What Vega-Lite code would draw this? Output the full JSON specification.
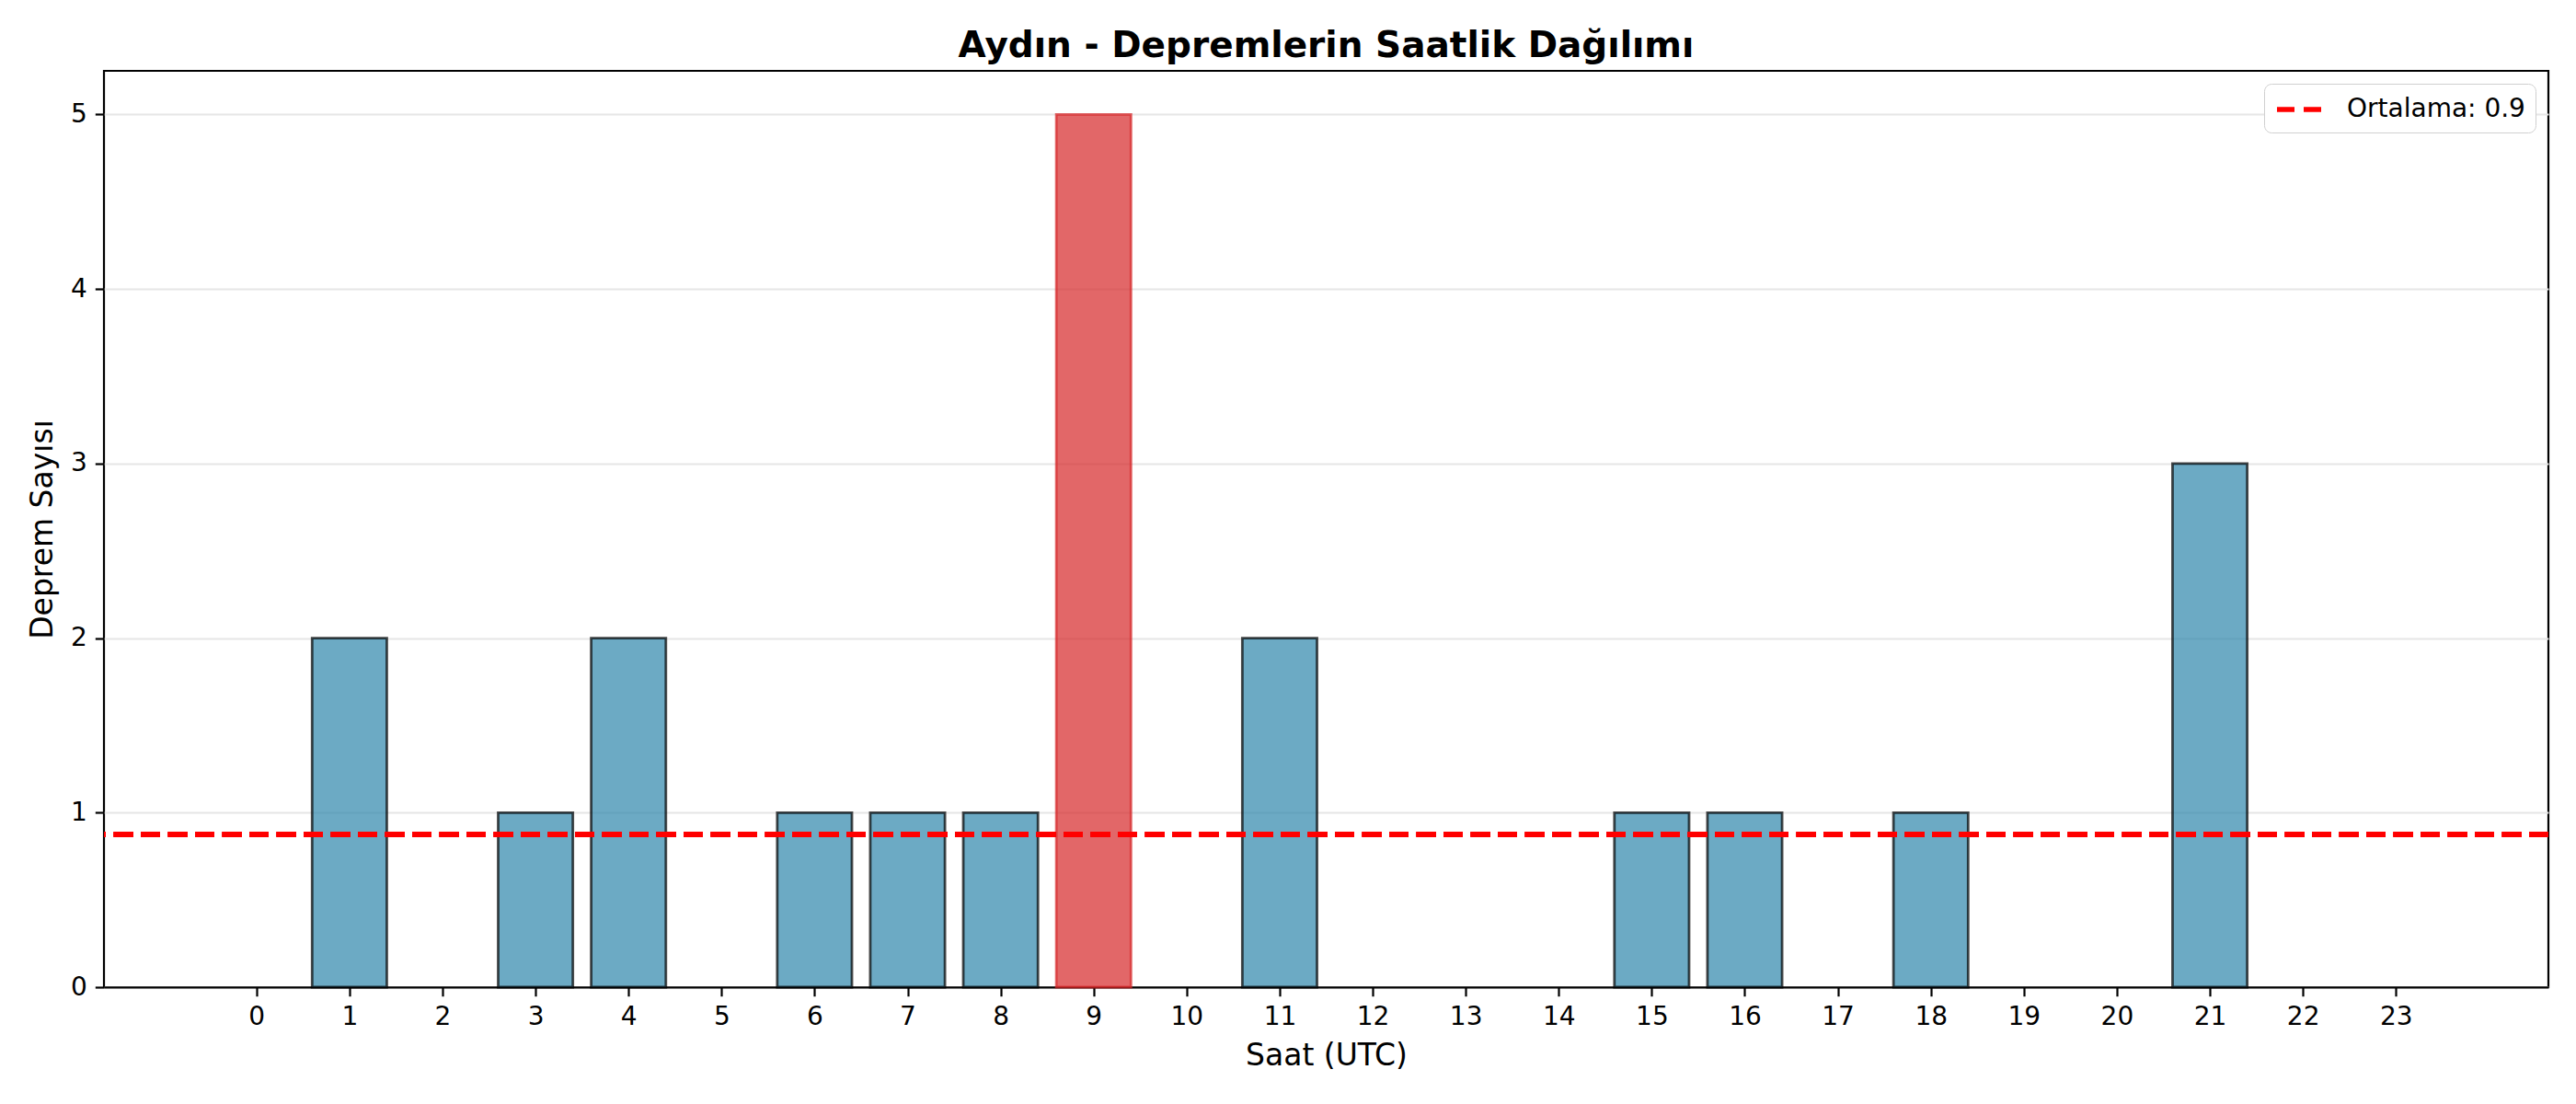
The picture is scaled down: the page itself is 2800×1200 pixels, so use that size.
{
  "$schema": "https://vega.github.io/schema/vega-lite/v6.json",
  "autosize": {"type": "none"},
  "width": 2657,
  "height": 996,
  "padding": {"left": 113, "top": 77, "right": 30, "bottom": 127},
  "background": "white",
  "title": {
    "text": "Aydın - Depremlerin Saatlik Dağılımı",
    "font": "DejaVu Sans",
    "fontSize": 39,
    "fontWeight": "bold",
    "color": "black",
    "anchor": "middle",
    "offset": 7
  },
  "data": {
    "values": [
      {"saat": 0, "sayi": 0},
      {"saat": 1, "sayi": 2},
      {"saat": 2, "sayi": 0},
      {"saat": 3, "sayi": 1},
      {"saat": 4, "sayi": 2},
      {"saat": 5, "sayi": 0},
      {"saat": 6, "sayi": 1},
      {"saat": 7, "sayi": 1},
      {"saat": 8, "sayi": 1},
      {"saat": 9, "sayi": 5},
      {"saat": 10, "sayi": 0},
      {"saat": 11, "sayi": 2},
      {"saat": 12, "sayi": 0},
      {"saat": 13, "sayi": 0},
      {"saat": 14, "sayi": 0},
      {"saat": 15, "sayi": 1},
      {"saat": 16, "sayi": 1},
      {"saat": 17, "sayi": 0},
      {"saat": 18, "sayi": 1},
      {"saat": 19, "sayi": 0},
      {"saat": 20, "sayi": 0},
      {"saat": 21, "sayi": 3},
      {"saat": 22, "sayi": 0},
      {"saat": 23, "sayi": 0}
    ]
  },
  "layer": [
    {
      "mark": {"type": "bar", "width": 81.2, "strokeWidth": 2.8, "fillOpacity": 0.7},
      "encoding": {
        "x": {
          "field": "saat",
          "type": "quantitative",
          "scale": {"domain": [-1.59, 24.59], "nice": false, "zero": false},
          "title": "Saat (UTC)",
          "axis": {"values": [0, 1, 2, 3, 4, 5, 6, 7, 8, 9, 10, 11, 12, 13, 14, 15, 16, 17, 18, 19, 20, 21, 22, 23], "format": "d", "labelAngle": 0, "labelFlush": false, "labelOverlap": false, "domain": true}
        },
        "y": {
          "field": "sayi",
          "type": "quantitative",
          "scale": {"domain": [0, 5.25], "nice": false},
          "title": "Deprem Sayısı",
          "axis": {"values": [0, 1, 2, 3, 4, 5], "format": "d", "grid": true}
        },
        "fill": {
          "condition": {"test": "datum.sayi === 5", "value": "#d62728"},
          "value": "#2E86AB"
        },
        "stroke": {
          "condition": {"test": "datum.sayi === 5", "value": "#d62728"},
          "value": "black"
        },
        "strokeOpacity": {
          "condition": {"test": "datum.sayi === 0", "value": 0},
          "value": 0.7
        }
      }
    },
    {
      "mark": {"type": "rule", "strokeWidth": 5.6, "strokeDash": [20.6, 8.9]},
      "encoding": {
        "y": {"datum": 0.875, "type": "quantitative"},
        "stroke": {
          "datum": "Ortalama: 0.9",
          "type": "nominal",
          "scale": {"range": ["red"]},
          "legend": {
            "title": null,
            "orient": "top-right",
            "offset": 14,
            "padding": 11,
            "fillColor": "white",
            "strokeColor": "#d0d0d0",
            "cornerRadius": 8,
            "symbolType": "M-2,0H2",
            "symbolSize": 784,
            "symbolOffset": 14,
            "symbolStrokeWidth": 5.6,
            "symbolDash": [19, 10],
            "symbolFillColor": "transparent",
            "labelFont": "DejaVu Sans",
            "labelFontSize": 28,
            "labelColor": "black",
            "labelOffset": 31,
            "labelLimit": 500
          }
        }
      }
    }
  ],
  "config": {
    "view": {"stroke": "black", "strokeWidth": 2.2},
    "axis": {
      "domain": false,
      "domainColor": "black",
      "domainWidth": 2.2,
      "labelFont": "DejaVu Sans",
      "labelFontSize": 28,
      "labelColor": "black",
      "labelPadding": 9,
      "tickColor": "black",
      "tickSize": 9.7,
      "tickWidth": 2.2,
      "titleFont": "DejaVu Sans",
      "titleFontSize": 33,
      "titleFontWeight": "normal",
      "titleColor": "black",
      "gridColor": "#e6e6e6",
      "gridWidth": 2.2
    },
    "axisX": {"grid": false, "titlePadding": 12},
    "axisY": {"titlePadding": 13}
  }
}
